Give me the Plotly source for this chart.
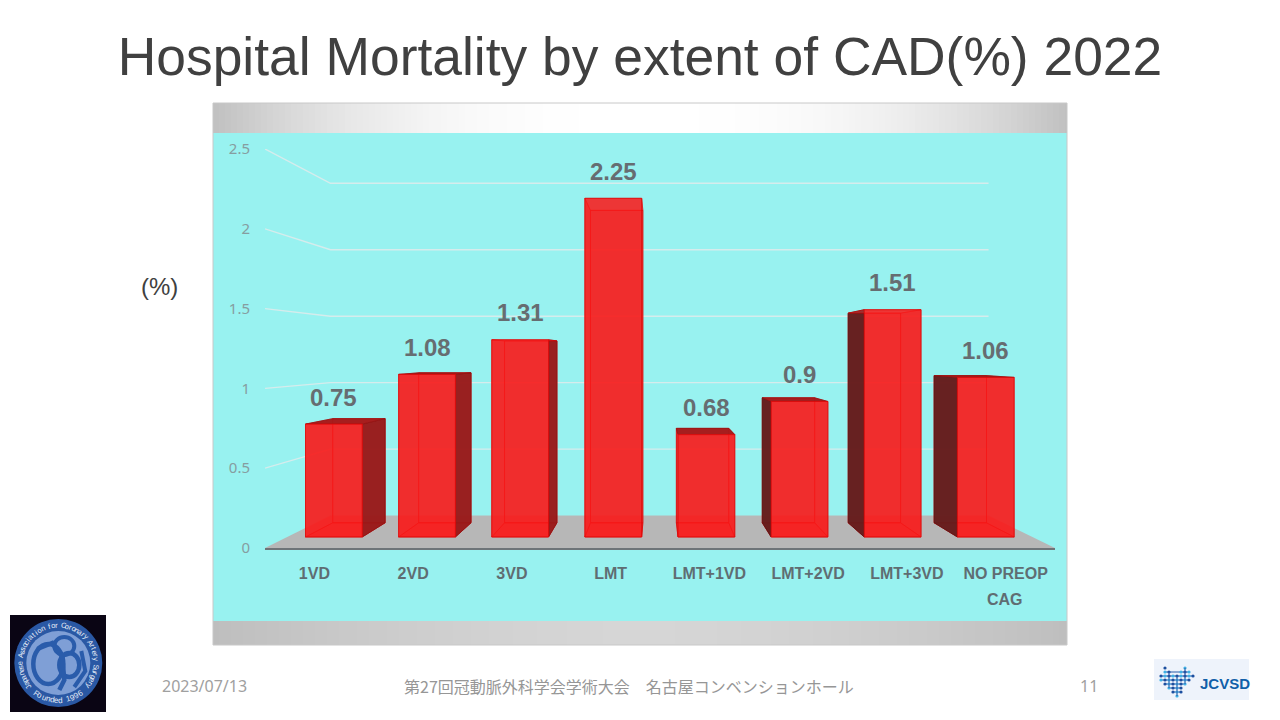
import math
import plotly.graph_objects as go

categories = ["1VD", "2VD", "3VD", "LMT", "LMT+1VD", "LMT+2VD", "LMT+3VD", "NO PREOP"]
values = [0.75, 1.08, 1.31, 2.25, 0.68, 0.9, 1.51, 1.06]
value_labels = ["0.75", "1.08", "1.31", "2.25", "0.68", "0.9", "1.51", "1.06"]
y_ticks = [0, 0.5, 1, 1.5, 2, 2.5]
y_tick_labels = ["0", "0.5", "1", "1.5", "2", "2.5"]
title_text = "Hospital Mortality by extent of CAD(%) 2022"
footer_center = "第27回冠動脈外科学会学術大会　名古屋コンベンションホール"

# plot-area geometry in pixels: value axis is the front plane of the 3D box
L, R, T, B = 265, 1055, 149, 548
VX, VY = 3.97, 1.215          # vanishing point in data units
S_FRONT, S_BACK, S_WALL = 0.943, 0.87, 0.833   # perspective scales
HALF = 0.305                  # half bar width in category units


def proj(x, v, s):
    return VX + (x - VX) * s, VY + (v - VY) * s


def px(x, y):
    return (x - L) / (R - L), (B - y) / (B - T)


shapes = []


def rect(x0, y0, x1, y1, fill, line=None, lw=0, layer="below"):
    a, b = px(x0, y0)
    c, d = px(x1, y1)
    shapes.append(dict(type="rect", xref="paper", yref="paper", x0=a, y0=b, x1=c, y1=d,
                       fillcolor=fill, line=dict(color=line or fill, width=lw), layer=layer))


def circle(cx, cy, r, fill, layer="above"):
    a, b = px(cx - r, cy - r)
    c, d = px(cx + r, cy + r)
    shapes.append(dict(type="circle", xref="paper", yref="paper", x0=a, y0=b, x1=c, y1=d,
                       fillcolor=fill, line=dict(width=0), layer=layer))


def ellipse_ring(cx, cy, rx, ry, color, w):
    a, b = px(cx - rx, cy - ry)
    c, d = px(cx + rx, cy + ry)
    shapes.append(dict(type="circle", xref="paper", yref="paper", x0=a, y0=b, x1=c, y1=d,
                       fillcolor="rgba(0,0,0,0)", line=dict(color=color, width=w), layer="above"))


def path(points, color, w):
    d = ""
    for k, (x, y) in enumerate(points):
        a, b = px(x, y)
        d += ("M" if k == 0 else "L") + f"{a},{b} "
    shapes.append(dict(type="path", xref="paper", yref="paper", path=d,
                       line=dict(color=color, width=w), layer="above"))


def mix(c0, c1, t):
    return "rgb(" + ",".join(str(round(a + (b - a) * t)) for a, b in zip(c0, c1)) + ")"


# panel bands with horizontal gradients
PL, PR = 213, 1067
for xs in range(PL, PR, 6):
    t = abs((xs + 3 - (PL + PR) / 2) / ((PR - PL) / 2))
    rect(xs, 103, min(xs + 7, PR), 133, mix((255, 255, 255), (192, 192, 192), t ** 2.5))
    rect(xs, 621, min(xs + 7, PR), 645, mix((214, 214, 214), (190, 190, 190), t ** 1.6))
rect(PL, 133, PR, 621, "#98f2f0")
path([(PL, 645), (PL, 103), (PR, 103), (PR, 645), (PL, 645)], "#c8c8c8", 1)

fig = go.Figure()


def poly(points, fill, line="rgba(225,0,0,0.75)", w=1):
    xs = [p[0] for p in points] + [points[0][0]]
    ys = [p[1] for p in points] + [points[0][1]]
    fig.add_trace(go.Scatter(x=xs, y=ys, mode="lines", fill="toself", fillcolor=fill,
                             line=dict(color=line, width=w), hoverinfo="skip", showlegend=False))


# floor
poly([proj(0, 0, 1), proj(0, 0, S_WALL), proj(8, 0, S_WALL), proj(8, 0, 1)],
     "#b7b7b7", "#b7b7b7", 0)

# wall gridlines
for v in y_ticks[1:]:
    a, b, c = proj(0, v, 1), proj(0, v, S_WALL), proj(8, v, S_WALL)
    fig.add_trace(go.Scatter(x=[a[0], b[0], c[0]], y=[a[1], b[1], c[1]], mode="lines",
                             line=dict(color="#d6ecec", width=1.4), hoverinfo="skip", showlegend=False))

# pseudo-3D bars
INNER = "rgba(240,30,30,0.55)"
label_points = []
for i, v in enumerate(values):
    c = i + 0.5
    l, r = c - HALF, c + HALF
    fb0, fb1 = proj(l, 0, S_FRONT), proj(r, 0, S_FRONT)
    ft0, ft1 = proj(l, v, S_FRONT), proj(r, v, S_FRONT)
    bb0, bb1 = proj(l, 0, S_BACK), proj(r, 0, S_BACK)
    bt0, bt1 = proj(l, v, S_BACK), proj(r, v, S_BACK)
    # back and floor of the bar
    poly([bb0, bb1, bt1, bt0], INNER)
    poly([fb0, fb1, bb1, bb0], "rgba(255,0,0,0.55)")
    # sides: the exposed one is dark, the hidden one sits inside the front face
    if bb1[0] > fb1[0] + 0.02:
        poly([fb1, bb1, bt1, ft1], "rgba(150,25,25,0.93)", "rgba(140,20,20,0.8)")
    else:
        poly([fb1, bb1, bt1, ft1], INNER, "rgba(225,0,0,0.4)")
    if bb0[0] < fb0[0] - 0.02:
        poly([fb0, bb0, bt0, ft0], "rgba(98,28,28,0.95)", "rgba(90,20,20,0.8)")
    else:
        poly([fb0, bb0, bt0, ft0], INNER, "rgba(225,0,0,0.4)")
    # top
    if v < VY:
        poly([ft0, ft1, bt1, bt0], "rgba(165,25,25,0.95)", "rgba(150,20,20,0.8)")
    else:
        poly([ft0, ft1, bt1, bt0], "rgba(240,60,60,0.4)", "rgba(225,0,0,0.5)")
    # front
    poly([fb0, fb1, ft1, ft0], "rgba(250,25,25,0.8)", "rgba(225,10,10,0.8)")
    label_points.append((proj(c, 0, S_FRONT)[0], ft0[1]))

annotations = []
for (x, y), t in zip(label_points, value_labels):
    annotations.append(dict(x=x, y=y, xref="x", yref="y", text=f"<b>{t}</b>", showarrow=False,
                            yshift=27, font=dict(family="Liberation Sans", size=24, color="#666d71")))


def note(x, y, text, size, color, family="Liberation Sans", angle=0):
    a, b = px(x, y)
    annotations.append(dict(x=a, y=b, xref="paper", yref="paper", text=text, showarrow=False,
                            textangle=angle, font=dict(family=family, size=size, color=color),
                            xanchor="center", yanchor="middle"))


note(159, 286, "(%)", 24, "#404040")
note(1005, 599, "<b>CAG</b>", 16, "#5f6d72")
note(204, 686, "2023/07/13", 16, "#a0a0a0", "Noto Sans")
note(629, 686, footer_center, 16, "#969696", "Noto Sans CJK JP")
note(1089, 686, "11", 16, "#a0a0a0", "Noto Sans")

# society logo
rect(10, 615, 106, 712, "#0a0514", layer="above")
LX, LY = 58.3, 663
circle(LX, LY, 44, "#2a58a4")
circle(LX, LY, 32, "#7f9fd6")
NAVY = "#2a5cab"
ellipse_ring(LX - 10, LY + 1, 15, 20, NAVY, 4.5)
ellipse_ring(LX + 11, LY + 2, 10, 12, NAVY, 4.5)
ellipse_ring(LX + 6, LY - 17, 10, 9, NAVY, 4)
path([(LX - 21, LY - 14), (LX - 6, LY - 20), (LX + 4, LY - 6), (LX + 6, LY + 17), (LX + 1, LY + 27)], NAVY, 4.5)
path([(LX + 23, LY - 12), (LX + 27, LY + 8), (LX + 16, LY + 24)], NAVY, 4)
top_text = "Japanese Association for Coronary Artery Surgery"
for k, ch in enumerate(top_text):
    a = -128 + 256 * k / (len(top_text) - 1)
    r = math.radians(a)
    note(LX + 38 * math.sin(r), LY - 38 * math.cos(r), ch, 7.5, "#e6edf8", angle=a)
bottom_text = "Founded 1996"
for k, ch in enumerate(bottom_text):
    a = 216 - 72 * k / (len(bottom_text) - 1)
    r = math.radians(a)
    note(LX + 37.5 * math.sin(r), LY - 37.5 * math.cos(r), ch, 8, "#e6edf8", angle=a - 180)

# JCVSD logo
rect(1154, 659, 1249, 700, "#eef3fb", layer="above")
note(1224.5, 683.5, "<b>JCVSD</b>", 15, "#115fa9")
rows = [(668, [-12, 8]), (672, [-12, -8, 4, 8, 12]), (676, [-16, -12, -8, -4, 0, 4, 8, 12, 16]),
        (680, [-16, -12, -8, -4, 0, 4, 8, 12]), (684, [-12, -8, -4, 0, 4, 8]),
        (688, [-8, -4, 0, 4]), (692, [-4, 0, 4]), (696, [0])]
for y, xs in rows:
    a, b = 1177 + xs[0], 1177 + xs[-1]
    if len(xs) > 2:
        path([(a, y), (b, y)], "#2b5aa8", 1)
    for n, dx in enumerate(xs):
        circle(1177 + dx, y, 1.6, "#1c4f9f" if (n + y // 4) % 2 else "#3fb0e4")
for dx, y0, y1 in [(-8, 672, 688), (0, 676, 696), (8, 668, 684)]:
    path([(1177 + dx, y0), (1177 + dx, y1)], "#2b5aa8", 1)

fig.update_layout(
    width=1280, height=720, autosize=False,
    margin=dict(l=L, r=1280 - R, t=T, b=720 - B, pad=0),
    paper_bgcolor="white", plot_bgcolor="rgba(0,0,0,0)",
    title=dict(text=title_text, x=0.5, xref="container", xanchor="center",
               y=1 - 56 / 720, yref="container", yanchor="middle",
               font=dict(family="Liberation Sans", size=53.4, color="#404040")),
    xaxis=dict(range=[0, 8], showgrid=False, zeroline=False, showline=True, linecolor="#6e7478", linewidth=2,
               tickmode="array", tickvals=[i + 0.5 for i in range(8)],
               ticktext=[f"<b>{c}</b>" for c in categories], ticks="", ticklabelstandoff=10,
               tickfont=dict(family="Liberation Sans", size=16, color="#5f6d72")),
    yaxis=dict(range=[0, 2.5], showgrid=False, zeroline=False, showline=False,
               tickmode="array", tickvals=y_ticks, ticktext=y_tick_labels, ticks="", ticklabelstandoff=14,
               tickfont=dict(family="Noto Sans", size=15, color="#869da0")),
    shapes=shapes, annotations=annotations, showlegend=False,
)
fig.write_html("out.html", config=dict(displayModeBar=False),
               post_script="document.body.style.margin='0';document.body.style.overflow='hidden';")
